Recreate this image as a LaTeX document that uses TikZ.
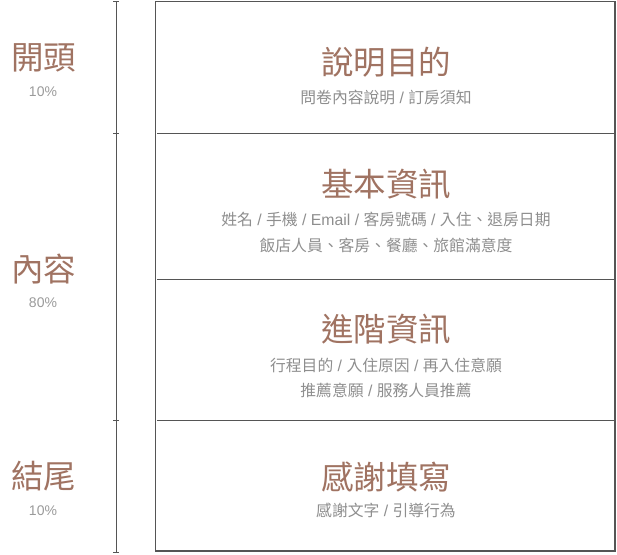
\documentclass[tikz,border=0pt]{standalone}
\usepackage{fontspec}
\setmainfont{Noto Sans CJK TC}
\newfontfamily\latfont{Liberation Sans}
\newcommand{\slsep}{{\latfont\ /\ }}
\definecolor{headbrown}{HTML}{A07362}
\definecolor{subgray}{HTML}{8E8E8E}
\definecolor{pctgray}{HTML}{9A9A9A}
\definecolor{linegray}{HTML}{555555}
\tikzset{
  heading/.style={font=\fontsize{32.5}{36}\selectfont, text=headbrown, inner sep=0pt, anchor=center},
  sideheading/.style={font=\fontsize{32.5}{36}\selectfont, text=headbrown, inner sep=0pt, anchor=center},
  subtext/.style={font=\fontsize{15.8}{18}\selectfont, text=subgray, inner sep=0pt, anchor=center},
  pct/.style={font=\latfont\fontsize{14}{17}\selectfont, text=pctgray, inner sep=0pt, anchor=center},
  frame/.style={draw=linegray, line width=1.2pt},
  rule/.style={draw=linegray, line width=0.9pt},
}
\begin{document}
\begin{tikzpicture}[x=1pt,y=-1pt]
\useasboundingbox (0,0) rectangle (617,554);
% scale bar
\coordinate (s0) at (116,1.5);
\coordinate (s1) at (116,133);
\coordinate (s2) at (116,420);
\coordinate (s3) at (116,552.5);
\draw[rule] (s0) -- (s3);
\foreach \c in {s0,s1,s2,s3} \draw[rule] ([xshift=-3pt]\c) -- ([xshift=3pt]\c);
% main box
\draw[frame] (155.5,1.5) rectangle (615,551);
\draw[rule] (157,133) -- (615,133);
\draw[rule] (157,279) -- (615,279);
\draw[rule] (157,420) -- (615,420);
% left labels
\node[sideheading] (l1) at (43.5,58) {開頭};
\node[pct] (p1) at (43,91.5) {10\%};
\node[sideheading] (l2) at (43.5,269.5) {內容};
\node[pct] (p2) at (43,302.5) {80\%};
\node[sideheading] (l3) at (43.5,476.5) {結尾};
\node[pct] (p3) at (43,510.5) {10\%};
% section 1
\node[heading] (h1) at (386,62) {說明目的};
\node[subtext] (t1) at (386,97) {問卷內容說明\slsep 訂房須知};
% section 2
\node[heading] (h2) at (386,184) {基本資訊};
\node[subtext] (t2a) at (386,219) {姓名\slsep 手機\slsep {\latfont Email}\slsep 客房號碼\slsep 入住、退房日期};
\node[subtext] (t2b) at (386,245) {飯店人員、客房、餐廳、旅館滿意度};
% section 3
\node[heading] (h3) at (386,329) {進階資訊};
\node[subtext] (t3a) at (386,365) {行程目的\slsep 入住原因\slsep 再入住意願};
\node[subtext] (t3b) at (386,390.5) {推薦意願\slsep 服務人員推薦};
% section 4
\node[heading] (h4) at (386,477) {感謝填寫};
\node[subtext] (t4) at (386,510.5) {感謝文字\slsep 引導行為};
\end{tikzpicture}
\end{document}
